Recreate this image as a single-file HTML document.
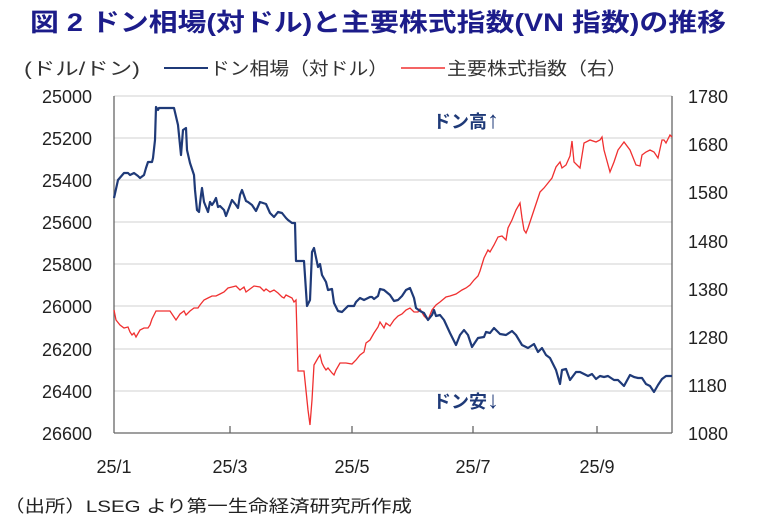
<!DOCTYPE html>
<html><head><meta charset="utf-8"><style>
html,body{margin:0;padding:0;background:#fff;}
svg{display:block;font-family:"Liberation Sans","Noto Sans CJK JP",sans-serif;}
</style></head><body>
<svg width="757" height="530" viewBox="0 0 757 530" xmlns="http://www.w3.org/2000/svg">
<text x="378" y="31" text-anchor="middle" font-size="25" font-weight="bold" fill="#1c1c8a" textLength="696" lengthAdjust="spacingAndGlyphs">図 2  ドン相場(対ドル)と主要株式指数(VN 指数)の推移</text>
<text x="24" y="75" font-size="18" fill="#333" textLength="116" lengthAdjust="spacingAndGlyphs">(ドル/ドン)</text>
<line x1="164" y1="68" x2="208" y2="68" stroke="#1f3a78" stroke-width="2"/>
<text x="210" y="75" font-size="18" fill="#333" textLength="178" lengthAdjust="spacingAndGlyphs">ドン相場（対ドル）</text>
<line x1="401" y1="68" x2="445" y2="68" stroke="#f03030" stroke-width="1.5"/>
<text x="447" y="75" font-size="18" fill="#333" textLength="180" lengthAdjust="spacingAndGlyphs">主要株式指数（右）</text>
<g stroke="#d9d9d9" stroke-width="1.3">
<line x1="114" y1="96" x2="672" y2="96"/><line x1="114" y1="138" x2="672" y2="138"/><line x1="114" y1="180" x2="672" y2="180"/><line x1="114" y1="222" x2="672" y2="222"/><line x1="114" y1="264" x2="672" y2="264"/><line x1="114" y1="306" x2="672" y2="306"/><line x1="114" y1="349" x2="672" y2="349"/><line x1="114" y1="391" x2="672" y2="391"/>
</g>
<g stroke="#666" stroke-width="1.3">
<line x1="114" y1="96" x2="114" y2="433"/><line x1="672" y1="96" x2="672" y2="433"/><line x1="114" y1="433" x2="672" y2="433"/>
<line x1="230" y1="433" x2="230" y2="426"/><line x1="352" y1="433" x2="352" y2="426"/><line x1="473" y1="433" x2="473" y2="426"/><line x1="597" y1="433" x2="597" y2="426"/>
</g>
<g font-size="18" fill="#222" text-anchor="end">
<text x="92" y="103">25000</text><text x="92" y="145">25200</text><text x="92" y="187">25400</text><text x="92" y="229">25600</text><text x="92" y="271">25800</text><text x="92" y="313">26000</text><text x="92" y="356">26200</text><text x="92" y="398">26400</text><text x="92" y="440">26600</text>
</g>
<g font-size="18" fill="#222" text-anchor="start">
<text x="688" y="103">1780</text><text x="688" y="151">1680</text><text x="688" y="199">1580</text><text x="688" y="248">1480</text><text x="688" y="296">1380</text><text x="688" y="344">1280</text><text x="688" y="392">1180</text><text x="688" y="440">1080</text>
</g>
<g font-size="18" fill="#222" text-anchor="middle">
<text x="114" y="473">25/1</text><text x="230" y="473">25/3</text><text x="352" y="473">25/5</text><text x="473" y="473">25/7</text><text x="597" y="473">25/9</text>
</g>
<text x="433" y="128" font-size="18" font-weight="bold" fill="#1f3a78">ドン高<tspan font-size="24">↑</tspan></text>
<text x="433" y="408" font-size="18" font-weight="bold" fill="#1f3a78">ドン安<tspan font-size="24">↓</tspan></text>
<polyline fill="none" stroke="#f03030" stroke-width="1.3" points="114,310 116,320 120,325 124,328 128,327 130,332 132,335 134,333 136,337 140,330 144,328 148,328 150,325 152,319 156,311 170,311 174,317 176,320 180,314 184,311 186,315 190,311 194,308 198,308 200,305 204,300 208,298 212,296 216,296 220,294 224,292 228,288 232,287 236,286 240,290 244,287 246,292 250,289 254,286 260,287 264,291 266,289 270,292 274,290 278,293 282,297 284,298 286,295 292,298 294,302 296,300 298,371 304,371 308,410 310,425 312,400 314,365 318,358 320,355 322,363 324,367 326,370 328,368 332,373 334,375 336,370 340,363 346,363 352,364 356,360 360,355 364,352 366,343 370,340 374,333 378,327 380,322 384,328 386,323 390,326 394,320 398,316 402,314 406,310 410,308 414,312 418,312 420,309 424,316 428,320 432,310 436,305 440,302 446,297 450,296 456,294 462,290 466,288 470,285 474,280 478,276 480,271 484,258 488,250 490,252 494,245 498,237 502,236 506,240 508,228 512,220 516,210 520,203 522,218 524,230 526,233 528,228 534,210 540,192 544,188 548,183 552,178 556,167 560,162 562,168 566,165 570,156 572,141 574,162 580,168 584,143 590,140 596,142 600,140 602,137 604,150 610,172 614,162 618,150 624,142 630,150 636,165 640,166 642,155 646,152 650,150 654,152 658,158 662,140 664,140 666,143 670,135 672,137"/>
<polyline fill="none" stroke="#1f3a78" stroke-width="2.2" stroke-linejoin="round" points="114,198 118,180 124,173 128,173 130,175 132,174 134,173 138,176 140,178 144,175 146,168 148,162 152,162 153,158 155,140 156,107 158,110 159,108 174,108 178,125 181,155 183,130 186,128 187,150 190,163 194,175 195,190 197,210 199,212 201,195 202,188 204,202 208,212 210,202 212,205 214,202 216,198 218,207 220,206 224,210 226,216 232,200 236,205 238,208 240,195 242,190 246,201 248,202 252,205 256,211 260,202 266,204 270,213 274,217 278,212 282,213 286,218 288,220 292,223 295,223 296,261 304,261 307,306 310,300 312,252 314,248 318,267 320,264 322,275 326,282 328,290 332,289 334,303 338,311 342,312 348,306 354,306 356,302 360,298 364,300 370,297 372,297 374,299 378,296 380,289 384,290 390,295 394,301 398,300 402,296 406,290 410,288 412,293 414,298 416,308 420,311 424,313 428,320 432,315 434,310 436,316 440,315 444,320 450,333 456,345 460,335 464,330 468,335 472,347 478,338 484,337 486,332 490,333 494,328 500,334 506,335 512,331 516,335 522,345 528,348 534,344 538,352 542,348 546,355 550,358 556,370 560,384 562,370 566,369 570,380 576,372 580,372 584,374 588,376 592,374 596,379 600,376 604,377 608,376 614,380 618,380 624,386 630,375 634,377 638,378 642,378 646,384 650,386 654,392 658,385 662,379 666,376 672,376"/>
<text x="4" y="512" font-size="17" fill="#222" textLength="408" lengthAdjust="spacingAndGlyphs">（出所）LSEG より第一生命経済研究所作成</text>
</svg>
</body></html>
